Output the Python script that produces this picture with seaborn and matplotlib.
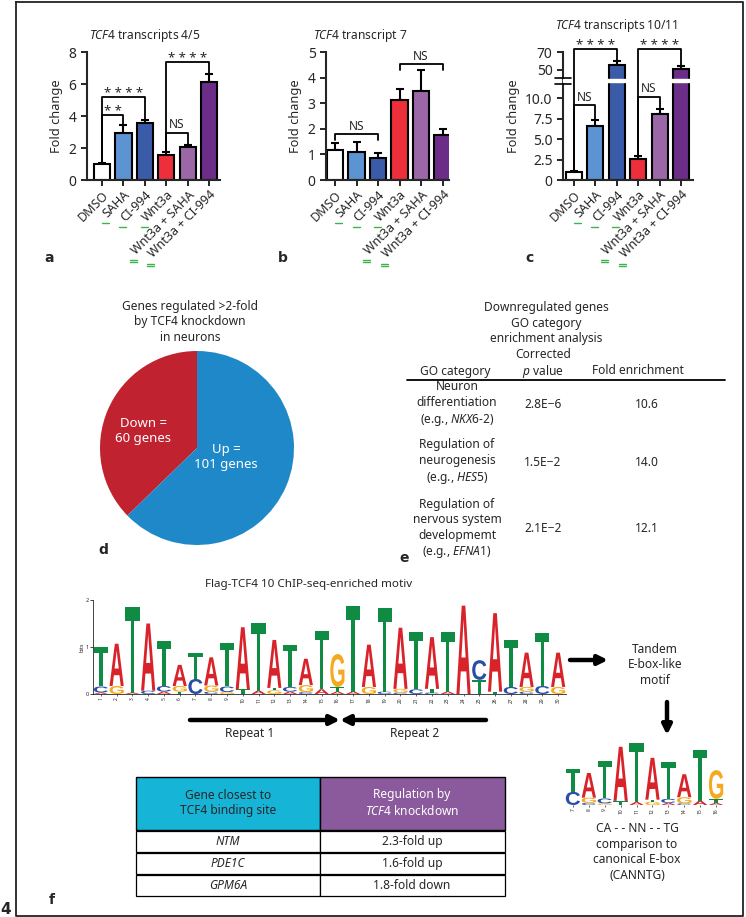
import numpy as np
import pandas as pd
import matplotlib
matplotlib.use("Agg")
import matplotlib.pyplot as plt
import seaborn as sns
from matplotlib.textpath import TextPath
from matplotlib.patches import PathPatch, Rectangle
from matplotlib.font_manager import FontProperties
import matplotlib.transforms as mtransforms

# ---- data ----
conditions = ["DMSO", "SAHA", "CI-994", "Wnt3a", "Wnt3a + SAHA", "Wnt3a + CI-994"]
bar_colors = ["#ffffff", "#5b93d3", "#3a5ca8", "#ec2f3b", "#9b67a6", "#6b2d88"]

fc_45 = [1.0, 2.96, 3.58, 1.56, 2.08, 6.15]
err_45 = [0.05, 0.48, 0.17, 0.21, 0.09, 0.48]
fc_7 = [1.19, 1.09, 0.86, 3.12, 3.48, 1.77]
err_7 = [0.26, 0.39, 0.18, 0.45, 0.81, 0.24]
fc_1011 = [1.0, 6.6, 54.9, 2.6, 8.1, 51.1]
err_1011 = [0.1, 0.75, 5.0, 0.3, 0.55, 2.8]

pie_labels = ["Down =\n60 genes", "Up =\n101 genes"]
pie_counts = [60, 101]
pie_colors = ["#c1222f", "#1f88c9"]

go_terms = ["Neuron\ndifferentiation\n(e.g., $\\it{NKX6}$-$\\it{2}$)",
            "Regulation of\nneurogenesis\n(e.g., $\\it{HES5}$)",
            "Regulation of\nnervous system\ndevelopmemt\n(e.g., $\\it{EFNA1}$)"]
go_pvals = ["2.8E\u22126", "1.5E\u22122", "2.1E\u22122"]
go_fold = ["10.6", "14.0", "12.1"]

# letters bottom -> top, heights in bits
motif_letters = ["ACT", "GA", "AT", "CA", "ACT", "TGA", "CT", "CGA", "GCT", "TA",
                 "AT", "GTA", "ACT", "CGA", "AT", "ATG", "AT", "GA", "CT", "CGA",
                 "CT", "CTA", "AT", "A", "TC", "TA", "CT", "CGA", "CT", "GA"]
motif_heights = [[0.03, 0.13, 0.84], [0.17, 0.9], [0.03, 1.82], [0.07, 1.43], [0.05, 0.12, 0.95],
                 [0.05, 0.12, 0.45], [0.32, 0.56], [0.05, 0.13, 0.6], [0.04, 0.12, 0.92], [0.1, 1.32],
                 [0.07, 1.45], [0.08, 0.05, 1.02], [0.05, 0.1, 0.9], [0.04, 0.15, 0.56], [0.1, 1.25],
                 [0.05, 0.1, 0.7], [0.05, 1.83], [0.15, 0.9], [0.05, 1.77], [0.03, 0.08, 1.3],
                 [0.1, 1.22], [0.03, 0.08, 1.1], [0.05, 1.27], [1.88], [0.3, 0.42],
                 [0.05, 1.67], [0.15, 1.0], [0.05, 0.1, 0.73], [0.17, 1.12], [0.15, 0.73]]
motif_positions = list(range(1, 31))
ebox_positions = list(range(7, 17))

target_genes = ["NTM", "PDE1C", "GPM6A"]
target_regulation = ["2.3-fold up", "1.6-fold up", "1.8-fold down"]

# ---- style ----
W, H = 746, 917
sns.set_style("ticks")
plt.rcParams["font.family"] = ["Noto Sans", "DejaVu Sans"]
plt.rcParams["mathtext.fontset"] = "custom"
plt.rcParams["mathtext.rm"] = "Noto Sans"
plt.rcParams["mathtext.it"] = "Noto Sans:italic"
FS = 8.6
STAR = 9.5

fig = plt.figure(figsize=(W / 100, H / 100), dpi=100)
ov = fig.add_axes([0, 0, 1, 1])
ov.set_xlim(0, W)
ov.set_ylim(H, 0)
ov.axis("off")
ov.set_zorder(10)


def px_axes(x0, y0, x1, y1):
    return fig.add_axes([x0 / W, 1 - y1 / H, (x1 - x0) / W, (y1 - y0) / H])


def bracket(ax, x1, x2, y, lo1, lo2, label, size, dy=1):
    ax.plot([x1, x1, x2, x2], [lo1, y, y, lo2], color="black", lw=1.3, clip_on=False, zorder=5)
    ax.annotate(label, ((x1 + x2) / 2, y), xytext=(0, dy), textcoords="offset points",
                ha="center", va="bottom", fontsize=size, annotation_clip=False)


def bar_panel(ax, vals, errs, xlim):
    df = pd.DataFrame({"condition": conditions, "fold": vals})
    sns.barplot(data=df, x="condition", y="fold", hue="condition", palette=bar_colors,
                saturation=1, width=0.75, edgecolor="black", linewidth=1.5, legend=False,
                ax=ax, zorder=2)
    ax.errorbar(range(len(vals)), vals, yerr=[np.zeros(len(vals)), errs], fmt="none",
                ecolor="black", elinewidth=1.5, capsize=3, capthick=1.5, zorder=1)
    ax.set_xlim(*xlim)
    ax.set_xlabel("")
    ax.set_ylabel("Fold change", fontsize=9.2)
    ax.set_xticks(range(len(conditions)))
    ax.set_xticklabels(conditions, rotation=45, ha="right", rotation_mode="anchor", fontsize=9)
    ax.tick_params(axis="y", labelsize=10, length=4, width=1.4)
    ax.tick_params(axis="x", length=4, width=1.4, pad=2)
    for s in ["left", "bottom"]:
        ax.spines[s].set_linewidth(1.5)
    sns.despine(ax=ax)
    ax.patch.set_alpha(0)


# ---- panel a ----
ax_a = px_axes(87, 52, 220, 180)
bar_panel(ax_a, fc_45, err_45, (-0.7, 5.5))
ax_a.set_ylim(0, 8)
ax_a.set_yticks([0, 2, 4, 6, 8])
tops = np.array(fc_45) + np.array(err_45)
bracket(ax_a, 0, 1, 4.05, tops[0], tops[1], "* *", STAR, -2)
bracket(ax_a, 0, 2, 5.2, tops[0], tops[2], "* * * *", STAR, -2)
bracket(ax_a, 3, 4, 2.95, tops[3], tops[4], "NS", FS)
bracket(ax_a, 3, 5, 7.35, tops[3], tops[5], "* * * *", STAR, -2)

# ---- panel b ----
ax_b = px_axes(326, 52, 449, 180)
bar_panel(ax_b, fc_7, err_7, (-0.42, 5.3))
ax_b.set_ylim(0, 5)
ax_b.set_yticks([0, 1, 2, 3, 4, 5])
bracket(ax_b, 0, 2, 1.8, 1.58, 1.58, "NS", FS)
bracket(ax_b, 3, 5, 4.52, 4.28, 4.28, "NS", FS)

# ---- panel c (broken axis) ----
A_BRK, B_BRK, EPS, K = 12.27, 39.06, 1e-3, 0.1073


def fwd(y):
    y = np.asarray(y, dtype=float)
    return np.where(y <= A_BRK, y,
                    np.where(y <= B_BRK, A_BRK + (y - A_BRK) * EPS,
                             A_BRK + (B_BRK - A_BRK) * EPS + (y - B_BRK) * K))


def inv(t):
    t = np.asarray(t, dtype=float)
    t2 = A_BRK + (B_BRK - A_BRK) * EPS
    return np.where(t <= A_BRK, t,
                    np.where(t <= t2, A_BRK + (t - A_BRK) / EPS, B_BRK + (t - t2) / K))


ax_c = px_axes(563, 52, 693, 180)
bar_panel(ax_c, fc_1011, err_1011, (-0.51, 5.56))
ax_c.set_yscale("function", functions=(fwd, inv))
ax_c.set_ylim(0, 70)
ax_c.set_yticks([0, 2.5, 5, 7.5, 10, 50, 70])
ax_c.set_yticklabels(["0", "2.5", "5.0", "7.5", "10.0", "50", "70"])
ax_c.axhspan(11.95, 39.6, color="white", zorder=4, clip_on=False)
tops = np.array(fc_1011) + np.array(err_1011)
bracket(ax_c, 0, 2, 73.5, tops[0], tops[2], "* * * *", STAR, -2)
bracket(ax_c, 0, 1, 9.15, tops[0], tops[1], "NS", FS)
bracket(ax_c, 3, 5, 73.5, tops[3], tops[5], "* * * *", STAR, -2)
bracket(ax_c, 3, 4, 10.16, tops[3], tops[4], "NS", FS)
brk = ax_c.get_yaxis_transform()
ax_c.plot([-0.06, 0.06], [11.7, 11.7], color="black", lw=1.2, transform=brk, clip_on=False, zorder=6)
ax_c.plot([-0.06, 0.06], [40.5, 40.5], color="black", lw=1.2, transform=brk, clip_on=False, zorder=6)

for x, y, s in [(145, 36, "transcripts 4/5"), (360, 36, "transcript 7"), (617, 26, "transcripts 10/11")]:
    ov.text(x, y, "$\\it{TCF4}$ " + s, ha="center", va="center", fontsize=FS)

# ---- panel d: pie ----
ax_d = px_axes(100, 351, 294, 545)
ax_d.pie(pie_counts, colors=pie_colors, startangle=90, counterclock=True, radius=1,
         wedgeprops=dict(linewidth=0))
ax_d.set_xlim(-1, 1)
ax_d.set_ylim(-1, 1)
ax_d.set_aspect("equal")
ov.text(143, 431, pie_labels[0], color="white", ha="center", va="center", fontsize=9.5, linespacing=1.2)
ov.text(226, 457, pie_labels[1], color="white", ha="center", va="center", fontsize=9.5, linespacing=1.2)
ov.text(190, 322, "Genes regulated >2-fold\nby TCF4 knockdown\nin neurons", ha="center", va="center",
        fontsize=FS, linespacing=1.25)

# ---- panel e: GO table ----
ov.text(546, 323, "Downregulated genes\nGO category\nenrichment analysis", ha="center", va="center",
        fontsize=FS, linespacing=1.25)
ov.text(455, 371, "GO category", ha="center", va="center", fontsize=FS)
ov.text(543, 364, "Corrected\n$\\it{p}$ value", ha="center", va="center", fontsize=FS, linespacing=1.25)
ov.text(638, 371, "Fold enrichment", ha="center", va="center", fontsize=FS)
ov.plot([407, 725], [380, 380], color="black", lw=1.3)
for yc, term, pv, fe in zip([404, 462, 529], go_terms, go_pvals, go_fold):
    ov.text(457, yc, term, ha="center", va="center", fontsize=FS, linespacing=1.25)
    ov.text(543, yc, pv, ha="center", va="center", fontsize=FS)
    ov.text(647, yc, fe, ha="center", va="center", fontsize=FS)

# ---- sequence logos ----
logo_font = FontProperties(family="Liberation Sans", weight="bold")
letter_colors = {"A": "#d8232a", "C": "#2a4ea6", "G": "#f5a91c", "T": "#0f8b43"}


def draw_logo(ax, positions, letters, heights):
    for pos, lets, hs in zip(positions, letters, heights):
        y0 = 0.0
        for let, h in zip(lets, hs):
            tp = TextPath((0, 0), let, size=1, prop=logo_font)
            bb = tp.get_extents()
            tr = (mtransforms.Affine2D().translate(-bb.x0, -bb.y0)
                  .scale(0.9 / bb.width, h / bb.height).translate(pos - 0.45, y0))
            ax.add_patch(PathPatch(tp, transform=tr + ax.transData, fc=letter_colors[let], ec="none"))
            y0 += h
    ax.set_xticks(positions)
    ax.set_xticklabels([str(p) for p in positions], rotation=90, fontsize=3.5)
    ax.set_ylim(0, 2)
    ax.patch.set_alpha(0)


ax_m = px_axes(93, 600, 566, 694)
draw_logo(ax_m, motif_positions, motif_letters, motif_heights)
ax_m.set_xlim(0.5, 30.5)
ax_m.set_yticks([0, 1, 2])
ax_m.tick_params(axis="y", labelsize=4, length=2, width=0.6, pad=1)
ax_m.tick_params(axis="x", length=1.5, width=0.5, pad=1)
ax_m.set_ylabel("bits", fontsize=4, labelpad=1)
sns.despine(ax=ax_m)
for s in ["left", "bottom"]:
    ax_m.spines[s].set_linewidth(0.6)

ax_s = px_axes(565, 723, 724, 805)
draw_logo(ax_s, ebox_positions, motif_letters[6:16], motif_heights[6:16])
ax_s.set_xlim(6.5, 16.5)
ax_s.set_yticks([])
ax_s.tick_params(axis="x", length=1.5, width=0.5, pad=1)
sns.despine(ax=ax_s, left=True, bottom=True)

ov.text(309, 585, "Flag-TCF4 10 ChIP-seq-enriched motiv", ha="center", va="center", fontsize=8.4)
arrow_kw = dict(arrowstyle="-|>", lw=3.2, color="black", mutation_scale=14, shrinkA=0, shrinkB=0)
ov.annotate("", xy=(340, 720), xytext=(190, 720), arrowprops=arrow_kw)
ov.annotate("", xy=(340, 720), xytext=(486, 720), arrowprops=arrow_kw)
ov.text(250, 733, "Repeat 1", ha="center", va="center", fontsize=FS)
ov.text(415, 733, "Repeat 2", ha="center", va="center", fontsize=FS)
ov.annotate("", xy=(608, 660), xytext=(570, 660), arrowprops=arrow_kw)
ov.annotate("", xy=(667, 735), xytext=(667, 702), arrowprops=arrow_kw)
ov.text(655, 665, "Tandem\nE-box-like\nmotif", ha="center", va="center", fontsize=FS, linespacing=1.25)
ov.text(637, 852, "CA - - NN - - TG\ncomparison to\ncanonical E-box\n(CANNTG)", ha="center",
        va="center", fontsize=FS, linespacing=1.25)

# ---- panel f: table ----
ov.add_patch(Rectangle((136, 777), 184, 53, fc="#16b4d6", ec="black", lw=1))
ov.add_patch(Rectangle((320, 777), 185, 53, fc="#8a5a9c", ec="black", lw=1))
ov.text(228, 803, "Gene closest to\nTCF4 binding site", ha="center", va="center", fontsize=FS, linespacing=1.25)
ov.text(412, 803, "Regulation by\n$\\it{TCF4}$ knockdown", color="white", ha="center", va="center",
        fontsize=FS, linespacing=1.25)
for i, (g, r) in enumerate(zip(target_genes, target_regulation)):
    y0 = 831 + i * 22
    ov.add_patch(Rectangle((136, y0), 184, 21, fc="white", ec="black", lw=0.9))
    ov.add_patch(Rectangle((320, y0), 185, 21, fc="white", ec="black", lw=0.9))
    ov.text(228, y0 + 10.5, g, ha="center", va="center", fontsize=FS, style="italic")
    ov.text(412, y0 + 10.5, r, ha="center", va="center", fontsize=FS)

# ---- panel letters and border ----
for x, y, s in [(49, 258, "a"), (283, 258, "b"), (530, 258, "c"), (103, 550, "d"),
                (404, 558, "e"), (52, 900, "f")]:
    ov.text(x, y, s, ha="center", va="center", fontsize=10, fontweight="bold", family="DejaVu Sans")
ov.text(6, 909, "4", ha="center", va="center", fontsize=11, fontweight="bold", family="DejaVu Sans")
ov.plot([16, 16, 743, 743, 16], [2, 916, 916, 2, 2], color="#222222", lw=1.3)

# green marks under treatment labels
fig.canvas.draw()
for ax in [ax_a, ax_b, ax_c]:
    for j, lbl in enumerate(ax.get_xticklabels()):
        if j == 0:
            continue
        bb = lbl.get_window_extent()
        x0, yb = bb.x0 + 1, H - bb.y0 + 3
        n = 1 if j < 4 else 2
        for k in range(n):
            ov.plot([x0, x0 + 7], [yb + 2.5 * k, yb + 2.5 * k], color="#3cb44b", lw=1)

fig.savefig("out.png", dpi=100)
